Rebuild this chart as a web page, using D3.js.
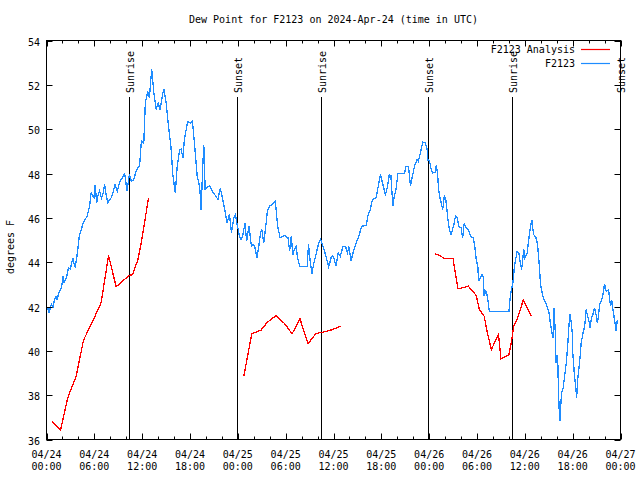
<!DOCTYPE html>
<html><head><meta charset="utf-8">
<script src="https://cdn.jsdelivr.net/npm/d3@7"></script>
<style>body{margin:0;background:#fff}svg{display:block}text{font-family:"DejaVu Sans Mono",monospace;font-size:10px;fill:#000}</style>
</head><body><svg id="c" width="640" height="480"></svg>
<script>
const title = "Dew Point for F2123 on 2024-Apr-24 (time in UTC)";
const yLabel = "degrees F";
const seriesNames = ["F2123 Analysis", "F2123"];
const seriesColors = ["#ff0000", "#1e8cff"];
const startTime = "2024-04-24T00:00:00Z";
const yTicks = [36, 38, 40, 42, 44, 46, 48, 50, 52, 54];
const sunNames = ["Sunrise", "Sunset", "Sunrise", "Sunset", "Sunrise", "Sunset"];
const sunHours = [10.33, 23.87, 34.41, 47.83, 58.37, 71.9];

// analysis (hours since start, value)
const anaHours = [
 [0.67,1.76,2.68,3.72,4.64,5.8,6.86,7.78,8.74,9.78,10.4,10.8,11.45,11.9,12.8],
 [24.75,25.75,26.9,27.7,28.8,29.86,30.8,31.8,32.8,33.8,34.9,35.9,36.9],
 [48.67,49.3,50.0,51.0,51.6,52.4,52.9,53.9,54.3,54.9,55.3,55.8,56.7,57.0,58.0,58.3,58.6,59.0,59.8,60.8]
];
const anaValues = [
 [36.81,36.42,37.9,38.86,40.48,41.34,42.18,44.3,42.89,43.22,43.4,43.44,44.1,44.9,46.9],
 [38.85,40.77,40.93,41.29,41.59,41.23,40.77,41.44,40.32,40.78,40.86,40.96,41.11],
 [44.38,44.3,44.15,44.15,42.8,42.86,42.92,42.5,41.86,41.56,40.81,40.06,40.74,39.65,39.83,40.36,41.1,41.4,42.28,41.56]
];

const obsHours = [0.17,0.3,0.6,0.8,1.0,1.2,1.35,1.5,1.8,2.0,2.05,2.2,2.5,2.76,3.0,3.3,3.5,3.6,3.75,3.93,4.14,4.3,4.55,4.8,5.1,5.4,5.6,5.8,5.95,6.1,6.3,6.45,6.65,6.9,7.1,7.3,7.5,7.7,7.9,8.1,8.3,8.5,8.6,8.9,9.05,9.3,9.55,9.8,10.1,10.4,10.65,10.9,11.25,11.5,11.67,11.9,12.2,12.4,12.7,12.9,13.1,13.2,13.45,13.76,14.0,14.25,14.45,14.6,14.75,15.0,15.3,15.6,15.85,16.15,16.4,16.7,16.9,17.1,17.3,17.7,18.1,18.3,18.56,18.9,19.2,19.3,19.4,19.6,19.73,19.9,20.45,20.8,21.1,21.5,21.8,22.1,22.4,22.65,22.95,23.2,23.5,23.7,23.9,24.1,24.2,24.4,24.6,24.9,25.1,25.4,25.7,25.9,26.1,26.4,26.6,26.85,27.0,27.25,27.55,27.7,27.97,28.4,28.7,28.8,29.0,29.3,29.85,30.3,30.5,30.7,30.9,31.1,31.3,31.5,31.75,32.7,32.86,33.05,33.3,33.5,33.8,34.1,34.37,34.55,34.87,35.1,35.4,35.7,35.9,36.1,36.3,36.6,36.85,37.2,37.5,37.75,37.95,38.2,38.55,38.85,39.1,39.55,40.1,40.3,40.6,40.9,41.35,41.65,41.9,42.2,42.5,42.75,43.0,43.2,43.45,43.6,43.87,44.07,44.9,45.1,45.4,45.66,45.8,46.16,46.5,46.65,46.9,47.2,47.5,47.75,47.85,48.05,48.25,48.45,48.75,48.9,49.05,49.17,49.3,49.5,49.7,49.9,50.1,50.35,50.55,50.75,51.1,51.3,51.55,51.7,52.0,52.2,52.4,52.6,52.9,53.3,53.5,53.7,53.9,54.1,54.2,54.4,54.65,54.8,54.9,55.1,55.3,55.55,58.0,58.2,58.5,58.7,59.03,59.25,59.45,59.6,59.87,60.0,60.3,60.46,60.6,60.87,61.1,61.4,61.6,61.8,61.97,62.25,62.7,63.0,63.2,63.4,63.55,63.65,63.8,63.9,64.05,64.15,64.2,64.3,64.4,64.5,64.6,64.8,65.2,65.4,65.5,65.66,65.85,65.95,66.0,66.2,66.4,66.5,66.65,66.9,67.07,67.3,67.5,67.7,67.85,68.0,68.2,68.35,68.55,68.75,68.95,69.1,69.25,69.37,69.6,69.8,70.0,70.2,70.5,70.6,70.75,70.9,71.05,71.25,71.45,71.6];
const obsValues = [41.94,41.7,42.1,41.95,42.3,42.46,42.3,42.6,42.77,43.1,43.37,43.07,43.3,43.74,43.7,44.2,43.85,43.8,44.1,44.57,45.25,45.4,45.7,45.9,46.07,46.52,47.13,46.97,46.9,47.5,46.68,47.0,47.2,46.9,47.1,47.5,47.0,46.68,46.8,46.9,47.1,47.35,47.5,47.2,47.45,47.73,47.8,48.03,47.2,47.95,47.65,47.7,48.1,48.3,48.33,49.46,49.38,51.19,51.7,51.4,52.3,52.7,51.7,50.88,51.19,50.88,51.3,51.63,51.79,51.2,50.13,49.23,47.95,47.13,48.33,49.08,49.1,48.7,49.53,50.35,50.28,50.35,49.38,47.88,47.43,46.98,46.37,48.33,49.3,47.28,47.46,47.2,47.05,46.83,47.35,46.83,46.3,45.77,46.15,45.32,46.0,46.15,45.7,45.4,45.17,45.0,45.17,45.77,44.94,45.62,44.72,44.8,44.72,44.2,44.64,45.32,45.47,44.87,45.77,46.3,46.52,46.64,46.75,46.37,45.62,45.1,45.2,45.1,44.49,45.17,44.34,44.57,44.72,44.2,43.82,43.82,44.8,44.12,43.49,43.9,44.34,44.8,45.02,44.87,44.49,44.2,43.79,44.2,44.27,44.12,43.82,44.42,44.27,44.72,44.72,44.42,44.7,44.04,44.57,44.87,45.1,45.62,45.65,46.07,46.37,46.83,46.9,47.5,47.95,47.5,47.05,47.35,47.95,47.9,46.52,46.9,47.35,48.0,48.0,48.33,48.33,47.43,47.7,48.33,48.63,48.55,48.93,49.41,49.38,49.08,48.6,48.55,48.2,48.03,48.05,48.36,48.03,47.35,46.97,46.7,46.37,46.97,46.8,45.92,45.47,45.25,45.7,46.07,46.0,45.62,45.55,45.1,45.77,45.55,45.47,45.1,45.1,44.8,44.12,43.82,43.14,43.3,43.44,43.3,42.46,42.7,42.46,41.76,41.76,42.54,43.07,43.82,44.49,44.4,43.9,43.67,44.57,44.2,44.4,44.94,45.32,45.92,45.25,45.1,44.8,43.9,42.99,42.46,42.09,41.79,41.26,40.81,40.6,41.94,41.0,39.46,39.83,39.3,38.4,37.43,36.83,37.5,38.1,38.3,39.46,40.36,41.0,41.64,41.2,40.8,39.98,39.0,38.3,37.88,38.78,39.6,40.36,40.8,41.1,41.86,41.6,41.41,41.04,41.49,41.65,41.94,41.6,41.26,41.6,42.09,42.24,42.54,43.02,42.69,42.76,42.46,42.01,42.31,41.86,41.4,40.88,41.41];

const L = 46.5, R = 620.5, T = 40.5, B = 439.5;
const svg = d3.select("#c");
const t0 = new Date(startTime);
const toDate = h => new Date(t0.getTime() + h * 3600e3);
const x = d3.scaleUtc().domain([t0, toDate(72)]).range([L, R]);
const y = d3.scaleLinear().domain([36, 54]).range([B, T]);

// title
svg.append("text").attr("x", (L + R) / 2).attr("y", 23).attr("text-anchor", "middle").text(title);
// y label
svg.append("text").attr("transform", `translate(14,247) rotate(-90)`).attr("text-anchor", "middle").text(yLabel);

// sunrise / sunset lines
sunHours.forEach((h, i) => {
  const xx = Math.round(x(toDate(h))) + 0.5;
  svg.append("line").attr("x1", xx).attr("x2", xx).attr("y1", 97).attr("y2", B)
    .attr("stroke", "#000").attr("stroke-width", 1);
  svg.append("text").attr("transform", `translate(${xx + 4},93) rotate(-90)`)
    .attr("text-anchor", "start").text(sunNames[i]);
});

const line = d3.line().x(d => x(toDate(d[0]))).y(d => y(d[1]));
// analysis
anaHours.forEach((hs, k) => {
  const pts = hs.map((h, i) => [h, anaValues[k][i]]);
  svg.append("path").attr("d", line(pts)).attr("fill", "none")
    .attr("stroke", seriesColors[0]).attr("stroke-width", 1.3).attr("shape-rendering", "crispEdges");
});
// obs
svg.append("path").attr("d", line(obsHours.map((h, i) => [h, obsValues[i]])))
  .attr("fill", "none").attr("stroke", seriesColors[1]).attr("stroke-width", 1.3)
  .attr("shape-rendering", "crispEdges");

// frame
svg.append("rect").attr("x", L).attr("y", T).attr("width", R - L).attr("height", B - T)
  .attr("fill", "none").attr("stroke", "#000").attr("stroke-width", 1);

// x ticks
const minor = d3.range(0, 73, 2);
const g = svg.append("g").attr("stroke", "#000").attr("stroke-width", 1);
minor.forEach(h => {
  const xx = Math.round(x(toDate(h))) + 0.5;
  const len = h % 6 === 0 ? 6 : 3;
  g.append("line").attr("x1", xx).attr("x2", xx).attr("y1", B).attr("y2", B - len);
  g.append("line").attr("x1", xx).attr("x2", xx).attr("y1", T).attr("y2", T + len);
});
const fmtD = d3.utcFormat("%m/%d"), fmtH = d3.utcFormat("%H:%M");
d3.range(0, 73, 6).forEach(h => {
  const d = toDate(h), xx = x(d);
  svg.append("text").attr("x", xx).attr("y", 458).attr("text-anchor", "middle").text(fmtD(d));
  svg.append("text").attr("x", xx).attr("y", 470).attr("text-anchor", "middle").text(fmtH(d));
});
// y ticks
yTicks.forEach(v => {
  const yy = Math.round(y(v)) + 0.5;
  g.append("line").attr("x1", L).attr("x2", L + 6).attr("y1", yy).attr("y2", yy);
  g.append("line").attr("x1", R).attr("x2", R - 6).attr("y1", yy).attr("y2", yy);
  svg.append("text").attr("x", 40).attr("y", yy + 4).attr("text-anchor", "end").text(v);
});

// legend
seriesNames.forEach((n, i) => {
  const yy = 49 + i * 14;
  svg.append("text").attr("x", 575).attr("y", yy + 4).attr("text-anchor", "end").text(n);
  svg.append("line").attr("x1", 581).attr("x2", 610).attr("y1", yy + 0.5).attr("y2", yy + 0.5)
    .attr("stroke", seriesColors[i]).attr("stroke-width", 1.2);
});
</script></body></html>
